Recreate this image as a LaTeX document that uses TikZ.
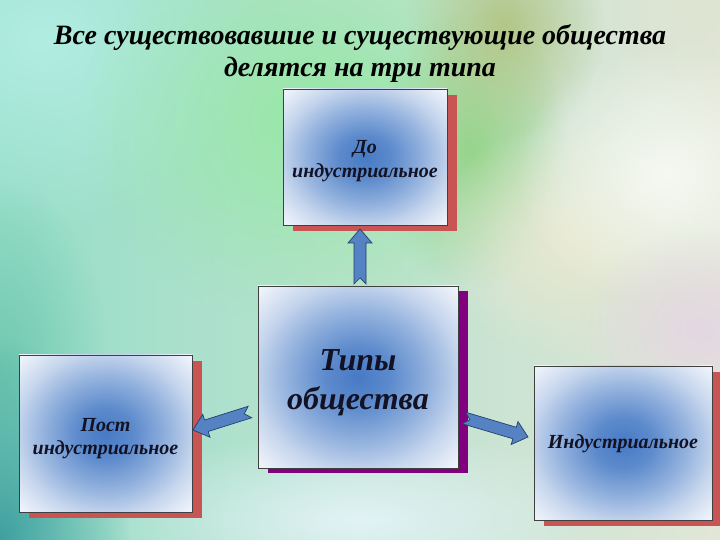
\documentclass[tikz,border=0pt]{standalone}
\usepackage{fontspec}
\setmainfont{Liberation Serif}
\usetikzlibrary{calc,shadows,fadings}
\definecolor{bgleft}{RGB}{150,222,200}
\definecolor{bgright}{RGB}{226,230,215}
\definecolor{cyanlt}{RGB}{178,237,226}
\definecolor{greenbg}{RGB}{150,232,165}
\definecolor{khaki}{RGB}{178,198,135}
\definecolor{olivegreen}{RGB}{152,212,140}
\definecolor{glow}{RGB}{246,249,242}
\definecolor{cornergray}{RGB}{222,228,210}
\definecolor{tealdk}{RGB}{62,160,160}
\definecolor{tealmd}{RGB}{112,200,175}
\definecolor{bottomlt}{RGB}{226,243,246}
\definecolor{pinkish}{RGB}{228,215,226}
\definecolor{beige}{RGB}{232,232,208}
\definecolor{shred}{RGB}{200,84,84}
\definecolor{shpurple}{RGB}{128,0,128}
\definecolor{arrfill}{RGB}{85,130,195}
\definecolor{arrdraw}{RGB}{38,62,108}
\definecolor{txt}{RGB}{18,18,36}
\pgfdeclareradialshading{boxglow}{\pgfpoint{0bp}{0bp}}{rgb(0bp)=(0.28,0.48,0.77); rgb(8bp)=(0.36,0.54,0.80); rgb(18bp)=(0.58,0.70,0.87); rgb(26bp)=(0.78,0.84,0.93); rgb(34bp)=(0.93,0.95,0.98); rgb(42bp)=(0.99,0.99,1); rgb(50bp)=(1,1,1)}
\tikzfading[name=softspot, inner color=transparent!0, outer color=transparent!100]
\newcommand{\spot}[4]{\fill[#1, path fading=softspot] (#2) ellipse (#3 and #4);}
\newcommand{\blockarr}[2]{%
\path[blockarrow] let \p1=(#1), \p2=(#2), \n1={atan2(\y2-\y1,\x2-\x1)}, \n2={veclen(\x2-\x1,\y2-\y1)-14} in
 ($(\p1)+(\n1:6)$) -- ($(\p1)+(\n1+90:6)$) -- ($(\p1)+(\n1:\n2)+(\n1+90:6)$) -- ($(\p1)+(\n1:\n2)+(\n1+90:12)$) -- (\p2) -- ($(\p1)+(\n1:\n2)+(\n1-90:12)$) -- ($(\p1)+(\n1:\n2)+(\n1-90:6)$) -- ($(\p1)+(\n1-90:6)$) -- cycle;}
\tikzset{
  typebox/.style={draw=black!75, line width=0.8pt, shading=boxglow, inner sep=0pt},
  boxtext/.style={text=txt, align=center, inner sep=0pt},
  smalltext/.style={boxtext, font=\fontsize{20}{23.5}\selectfont\bfseries\itshape},
  bigtext/.style={boxtext, font=\fontsize{32}{39}\selectfont\bfseries\itshape},
  redshadow/.style={drop shadow={fill=shred, opacity=1, shadow xshift=10pt, shadow yshift=-6pt}},
  purpleshadow/.style={drop shadow={fill=shpurple, opacity=1, shadow xshift=10pt, shadow yshift=-5pt}},
  blockarrow/.style={fill=arrfill, draw=arrdraw, line width=0.7pt, line join=miter},
  titletext/.style={text=black, align=center, font=\fontsize{28}{32}\selectfont\bfseries\itshape}
}
\begin{document}
\begin{tikzpicture}[x=1pt,y=1pt]
\useasboundingbox (0,0) rectangle (720,540);
\begin{scope}
\clip (0,0) rectangle (720,540);
\shade[left color=bgleft, right color=bgright] (0,0) rectangle (720,540);
\spot{cyanlt}{40,500}{220}{190}
\spot{tealmd}{0,170}{110}{190}
\spot{greenbg}{320,420}{240}{210}
\spot{olivegreen}{470,390}{100}{140}
\spot{khaki}{505,515}{100}{120}
\spot{beige}{570,300}{140}{120}
\spot{glow}{665,365}{150}{130}
\spot{cornergray}{700,530}{90}{70}
\spot{pinkish}{700,210}{120}{100}
\spot{bottomlt}{360,20}{260}{90}
\spot{tealdk}{0,0}{130}{200}
\end{scope}

\node[titletext] (title) at (360,487) {Все существовавшие и существующие общества\\делятся на три типа};

\node[typebox, redshadow, minimum width=164pt, minimum height=136pt,
  label={[smalltext, yshift=-4pt]center:До\\индустриальное}] (pre) at (365,383) {};
\node[typebox, purpleshadow, minimum width=200pt, minimum height=182pt,
  label={[bigtext, yshift=-6pt]center:Типы\\общества}] (types) at (358,163) {};
\node[typebox, redshadow, minimum width=173pt, minimum height=157pt,
  label={[smalltext, yshift=-5pt]center:Пост\\индустриальное}] (post) at (105.5,106.5) {};
\node[typebox, redshadow, minimum width=178pt, minimum height=154pt,
  label={[smalltext, yshift=-1pt]center:Индустриальное}] (ind) at (623,97) {};

\coordinate (upS) at (360,256);
\coordinate (upE) at (360,311);
\coordinate (lfS) at (250,128);
\coordinate (lfE) at (193,110);
\coordinate (rtS) at (464,122);
\coordinate (rtE) at (528,103);
\blockarr{upS}{upE}
\blockarr{lfS}{lfE}
\blockarr{rtS}{rtE}
\end{tikzpicture}
\end{document}
